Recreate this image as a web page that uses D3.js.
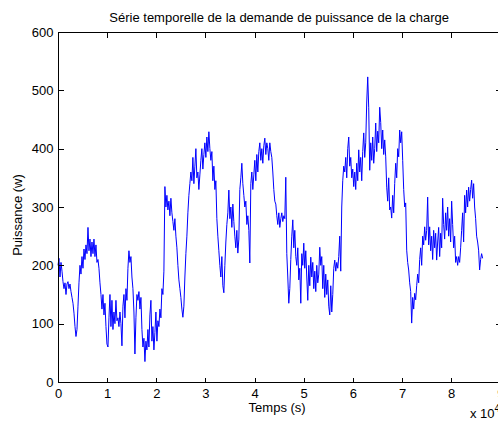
<!DOCTYPE html>
<html>
<head>
<meta charset="utf-8">
<script src="https://cdn.jsdelivr.net/npm/d3@7"></script>
<style>
  html, body { margin: 0; padding: 0; background: #ffffff; }
  svg { display: block; }
  text { font-family: "Liberation Sans", Arial, sans-serif; fill: #000; }
</style>
</head>
<body>
<script>
// ---- data ----
const title = "Série temporelle de la demande de puissance de la charge";
const xLabel = "Temps (s)";
const yLabel = "Puissance (w)";
const sampleStep = 203.3;           // seconds between samples
const xTicks = [0, 1, 2, 3, 4, 5, 6, 7, 8, 9];   // x 10^4 s
const yTicks = [0, 100, 200, 300, 400, 500, 600];
const power = [
  200, 212, 180, 205, 190, 172, 160, 170, 150, 168,
  172, 160, 168, 155, 145, 135, 118, 95, 78, 90,
  130, 170, 200, 185, 215, 195, 228, 210, 235, 220,
  265, 225, 245, 215, 240, 220, 245, 215, 235, 205,
  210, 195, 170, 150, 125, 150, 115, 135, 95, 65,
  60, 110, 150, 95, 140, 90, 120, 100, 140, 105,
  110, 95, 120, 100, 62, 130, 150, 110, 160, 140,
  195, 225, 205, 215, 180, 160, 120, 48, 110, 150,
  140, 155, 125, 145, 90, 60, 75, 35, 70, 55,
  90, 60, 115, 140, 70, 95, 55, 85, 120, 70,
  105, 95, 125, 110, 160, 150, 190, 335, 300, 320,
  295, 310, 285, 315, 290, 275, 260, 280, 250, 230,
  200, 175, 160, 145, 125, 111, 130, 180, 220, 250,
  290, 320, 340, 360, 345, 385, 340, 370, 400, 350,
  360, 330, 355, 380, 400, 365, 390, 410, 385, 420,
  395, 429, 400, 380, 395, 345, 370, 330, 345, 280,
  250, 225, 200, 180, 215, 165, 153, 200, 240, 270,
  290, 329, 280, 300, 265, 305, 275, 250, 230, 260,
  221, 245, 330, 350, 375, 340, 320, 300, 310, 270,
  285, 260, 204, 340, 360, 330, 355, 380, 345, 390,
  360, 395, 410, 380, 400, 375, 405, 418, 390, 410,
  400, 380, 410, 395, 385, 360, 330, 310, 305, 285,
  270, 290, 265, 280, 290, 275, 285, 280, 351, 220,
  180, 135, 160, 210, 250, 278, 230, 260, 215, 200,
  230, 175, 195, 135, 220, 200, 238, 195, 225, 180,
  140, 200, 165, 214, 180, 205, 160, 190, 155, 200,
  170, 185, 231, 200, 215, 160, 200, 145, 185, 150,
  175, 130, 115, 165, 120, 150, 195, 209, 190, 205,
  195, 215, 250, 190, 300, 345, 370, 360, 385, 350,
  400, 420, 370, 385, 350, 365, 335, 360, 330, 375,
  345, 398, 360, 385, 345, 395, 427, 385, 410, 480,
  523, 470, 363, 410, 380, 420, 375, 400, 444, 395,
  430, 410, 471, 445, 400, 432, 390, 415, 386, 334,
  310, 350, 295, 300, 281, 320, 290, 340, 375, 350,
  400, 386, 432, 410, 429, 380, 330, 300, 307, 226,
  205, 192, 170, 155, 101, 145, 125, 152, 141, 165,
  185, 170, 210, 230, 200, 250, 235, 266, 243, 260,
  317, 235, 266, 225, 250, 210, 260, 230, 255, 209,
  240, 265, 215, 255, 230, 315, 270, 245, 290, 260,
  300, 250, 280, 240, 310, 270, 230, 250, 205, 215,
  200, 215, 205, 230, 260, 290, 240, 320, 290, 329,
  300, 334, 310, 330, 346, 315, 340, 300, 280, 250,
  240, 226, 192, 210, 220, 212
];

// ---- layout ----
const W = 498, H = 422;
const mLeft = 58, mRight = 500.3, mTop = 32, mBottom = 382;

const svg = d3.select("body").append("svg")
  .attr("width", W).attr("height", H);

svg.append("rect").attr("width", W).attr("height", H).attr("fill", "#fff");

const x = d3.scaleLinear().domain([0, 90000]).range([mLeft, mRight]);
const y = d3.scaleLinear().domain([0, 600]).range([mBottom, mTop]);

// data line
const line = d3.line()
  .x((d, i) => x(i * sampleStep))
  .y(d => y(d));

svg.append("path")
  .datum(power)
  .attr("d", line)
  .attr("fill", "none")
  .attr("stroke", "#0000ff")
  .attr("stroke-width", 1);

// axes box
svg.append("rect")
  .attr("x", mLeft + 0.5).attr("y", mTop + 0.5)
  .attr("width", mRight - mLeft).attr("height", mBottom - mTop)
  .attr("fill", "none").attr("stroke", "#000").attr("stroke-width", 1)
  .attr("shape-rendering", "crispEdges");

const fs = 13;
function styleAxis(g) {
  g.select(".domain").remove();
  g.selectAll(".tick line").attr("stroke", "#000").attr("shape-rendering", "crispEdges");
  g.selectAll(".tick text").attr("font-size", fs).attr("fill", "#000")
    .attr("font-family", "'Liberation Sans', Arial, sans-serif");
}

svg.append("g").attr("transform", `translate(0,${mBottom + 0.5})`)
  .call(d3.axisBottom(x).tickValues(xTicks.map(v => v * 1e4))
    .tickFormat(d => d / 1e4).tickSize(-5).tickPadding(6))
  .call(styleAxis);

svg.append("g").attr("transform", `translate(0,${mTop + 0.5})`)
  .call(d3.axisTop(x).tickValues(xTicks.map(v => v * 1e4))
    .tickFormat("").tickSize(-5))
  .call(styleAxis);

svg.append("g").attr("transform", `translate(${mLeft + 0.5},0)`)
  .call(d3.axisLeft(y).tickValues(yTicks).tickSize(-5).tickPadding(5))
  .call(styleAxis);

svg.append("g").attr("transform", `translate(${mRight + 0.5},0)`)
  .call(d3.axisRight(y).tickValues(yTicks).tickFormat("").tickSize(-5))
  .call(styleAxis);

// labels
svg.append("text").attr("x", (mLeft + mRight) / 2).attr("y", 22)
  .attr("text-anchor", "middle").attr("font-size", fs).text(title);

svg.append("text").attr("x", (mLeft + mRight) / 2 - 2).attr("y", 412)
  .attr("text-anchor", "middle").attr("font-size", fs).text(xLabel);

svg.append("text")
  .attr("transform", `translate(22,215) rotate(-90)`)
  .attr("text-anchor", "middle").attr("font-size", fs).text(yLabel);

const mult = svg.append("text").attr("x", 470).attr("y", 418).attr("font-size", fs);
mult.append("tspan").text("x 10");
mult.append("tspan").attr("dy", -6).attr("font-size", 10).text("4");
</script>
</body>
</html>
